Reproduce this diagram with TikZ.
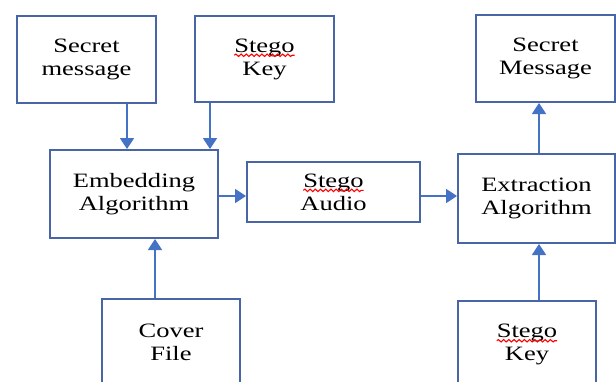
\documentclass[tikz,border=0pt]{standalone}
\usepackage{fontspec}
\setmainfont{Liberation Serif}[FakeStretch=1.3]
\usetikzlibrary{positioning}
\usetikzlibrary{calc}
\usetikzlibrary{arrows.meta}
\usetikzlibrary{decorations.pathmorphing}
\definecolor{boxblue}{RGB}{72,102,165}
\definecolor{arrowblue}{RGB}{68,114,196}
\newcommand{\spellmark}[1]{\tikz[baseline=(sw.base)]{\node[inner sep=0pt, outer sep=0pt, draw=none, fill=none, minimum size=0pt] (sw) {#1}; \draw[red, line width=0.55pt, decorate, decoration={snake, amplitude=0.6pt, segment length=2.6pt}] ([yshift=-1.6pt]sw.base west) -- ([yshift=-1.6pt]sw.base east);}}

\begin{document}
\begin{tikzpicture}[x=0.5pt, y=-0.5pt, block/.style={rectangle, draw=boxblue, fill=white, line width=1pt, align=center, inner sep=2pt, font=\fontsize{10.2}{11.5}\selectfont}, flow/.style={-{Triangle[length=5.5pt, width=7pt]}, draw=arrowblue, line width=0.9pt}]
        \useasboundingbox (0,0) rectangle (616,381);

        \node[block, minimum width=69.5pt, minimum height=43.5pt] (secret) at (86.5,59.5) {Secret\\message};
        \node[block, minimum width=69.5pt, minimum height=43pt] (key) at (264.5,59) {\spellmark{Stego}\\Key};
        \node[block, minimum width=84pt, minimum height=44pt] (embed) at (134,194) {Embedding\\Algorithm};
        \node[block, minimum width=86.5pt, minimum height=30pt] (audio) at (333.5,192) {\spellmark{Stego}\\Audio};
        \node[block, minimum width=78.5pt, minimum height=44.5pt] (extract) at (536.5,198.5) {Extraction\\Algorithm};
        \node[block, minimum width=69.5pt, minimum height=43.5pt] (message) at (545.5,58.5) {Secret\\Message};
        \node[block, minimum width=69pt, minimum height=44pt] (cover) at (171,342.5) {Cover\\File};
        \node[block, minimum width=69pt, minimum height=43.5pt] (key2) at (527,344.5) {\spellmark{Stego}\\Key};

        \draw[flow] ([xshift=20.25pt] secret.south) -- ([xshift=20.25pt] secret.south |- embed.north);
        \draw[flow] ([xshift=-27.25pt] key.south) -- ([xshift=-27.25pt] key.south |- embed.north);
        \draw[flow] ([xshift=-8pt] cover.north) -- ([xshift=-8pt] cover.north |- embed.south);
        \draw[flow] ([yshift=-1pt] embed.east) -- ([yshift=-1pt] embed.east -| audio.west);
        \draw[flow] ([yshift=-2pt] audio.east) -- ([yshift=-2pt] audio.east -| extract.west);
        \draw[flow] ([xshift=1.25pt] extract.north) -- ([xshift=1.25pt] extract.north |- message.south);
        \draw[flow] ([xshift=6pt] key2.north) -- ([xshift=6pt] key2.north |- extract.south);
    \end{tikzpicture}
\end{document}
